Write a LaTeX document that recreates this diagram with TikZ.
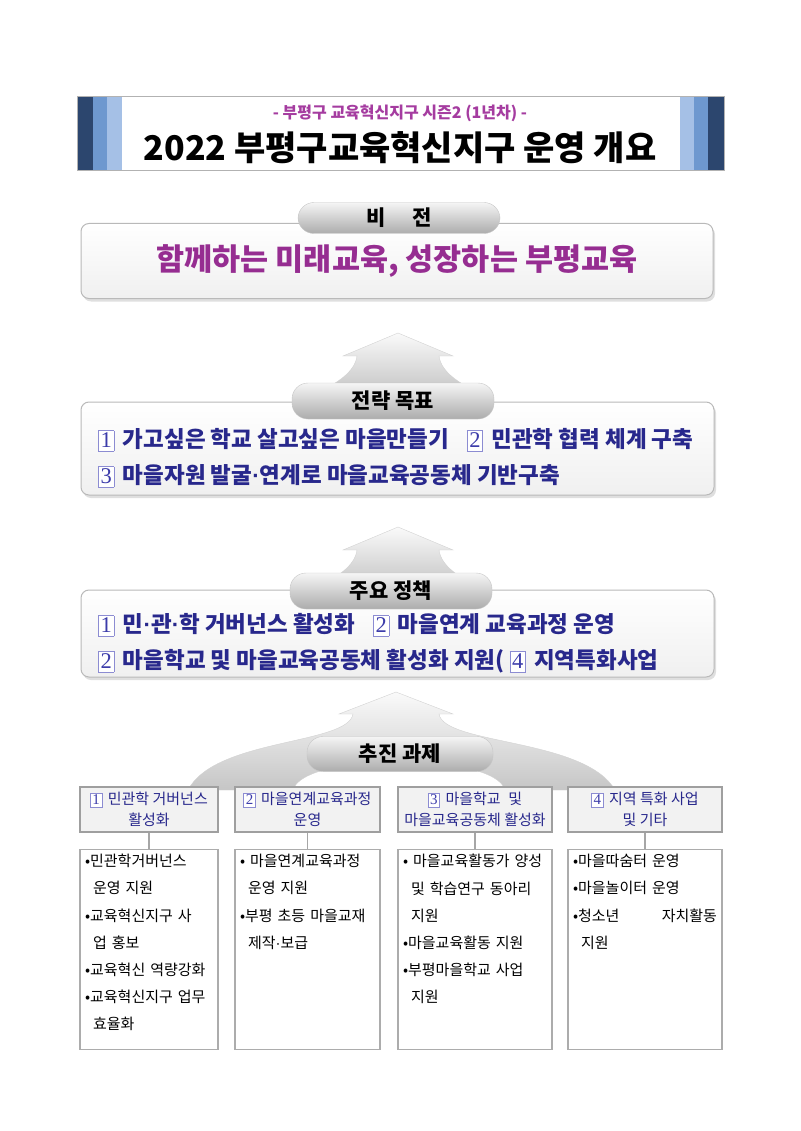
\documentclass[tikz,border=0pt]{standalone}
\usepackage{fontspec}
\setmainfont{Noto Sans CJK KR}
\newfontfamily\numfont{Liberation Serif}
\newfontfamily\dotfont{Liberation Sans}
\usetikzlibrary{positioning, shadows}

\definecolor{navy}{RGB}{44,70,110}
\definecolor{midblue}{RGB}{110,152,207}
\definecolor{lightblue}{RGB}{165,192,230}
\definecolor{subpurple}{RGB}{165,60,160}
\definecolor{visionpurple}{RGB}{150,45,145}
\definecolor{goalblue}{RGB}{40,40,140}
\definecolor{numframe}{RGB}{140,140,210}
\definecolor{numtext}{RGB}{60,60,170}

\setlength{\fboxsep}{1.2pt}
\setlength{\fboxrule}{0.7pt}
\newcommand{\numbox}[1]{\fcolorbox{numframe}{white}{\makebox[0.55em]{\numfont\mdseries\color{numtext}\rule[-0.1em]{0pt}{0.78em}#1}}\hspace{0.15em}}
\newcommand{\mdot}{{\dotfont\bfseries ·}}
\newcommand{\cont}{\hspace*{8pt}}
\newcommand{\toptext}[1]{\parbox[c][190pt][t]{\linewidth}{#1}}

\begin{document}
\begin{tikzpicture}[
    x = 1pt, y = -1pt,
    pill/.style = {rounded corners=16pt, top color=gray!8, bottom color=gray!65, draw=gray!45, minimum width=202pt, minimum height=36pt, font=\fontsize{21}{24}\selectfont\bfseries},
    panel/.style = {rounded corners=8pt, draw=gray!55, line width=1pt, top color=white, bottom color=gray!12, drop shadow={shadow xshift=2pt, shadow yshift=-3pt, fill=gray!50}},
    uparrow/.style = {top color=gray!4, bottom color=gray!45, draw=gray!35},
    goal/.style = {anchor=west, text=goalblue, font=\fontsize{22.5}{26}\selectfont\bfseries, inner sep=0pt},
    taskhead/.style = {draw=gray!75, line width=1.4pt, fill=gray!10, align=center, text=goalblue, font=\fontsize{15}{21}\selectfont, minimum height=45pt, inner sep=1pt},
    taskbody/.style = {draw=gray!65, line width=1.2pt, fill=white, inner sep=5pt, font=\fontsize{15}{27.2}\selectfont},
    link/.style = {draw=gray!70, line width=1.2pt}
]
\useasboundingbox (0,0) rectangle (800,1131);

% Title banner
    \fill[navy] (77,96) rectangle (724,170);
    \fill[midblue] (93,96) rectangle (708,170);
    \fill[lightblue] (107,96) rectangle (694,170);
    \fill[white] (122,96) rectangle (680,170);
    \draw[gray!60, line width=0.7pt] (77,96) rectangle (724,170);
    \node[text=subpurple, font=\fontsize{16}{18}\selectfont\bfseries] (subtitle) at (400,113) {- 부평구 교육혁신지구 시즌2 (1년차) -};
    \node[font=\fontsize{34}{38}\selectfont\bfseries] (title) at (400,148) {2022 부평구교육혁신지구 운영 개요};

% Panels
    \node[panel, minimum width=632pt, minimum height=75pt, text=visionpurple, font=\fontsize{30.5}{34}\selectfont\bfseries] (vision) at (397,261) {함께하는 미래교육, 성장하는 부평교육};
    \node[panel, minimum width=633pt, minimum height=93pt] (goals) at (397.5,448.5) {};
    \node[panel, minimum width=633pt, minimum height=87pt] (policy) at (397.5,633.5) {};

% Arrows
    \foreach \dy in {0,194}
        \path[uparrow, shift={(0,\dy)}] (398,333) -- (453,356) -- (439,356)
            .. controls (441,372) and (460,384) .. (478,392) -- (318,392)
            .. controls (336,384) and (355,372) .. (357,356) -- (343,356) -- cycle;
    \path[uparrow] (396,692) -- (453,714) -- (439,714)
        .. controls (444,745) and (585,738) .. (615,790) -- (505,790)
        .. controls (495,752) and (303,752) .. (293,790) -- (188,790)
        .. controls (215,738) and (348,745) .. (353,714) -- (339,714) -- cycle;

% Pills
    \node[pill, minimum height=31pt] (visionpill) at (399,218) {비\hspace{1.3em}전};
    \node[pill] (goalspill) at (393,401) {전략 목표};
    \node[pill] (policypill) at (391,591) {주요 정책};
    \node[pill, minimum width=186pt, minimum height=35pt] (taskpill) at (400,754) {추진 과제};

% Goal lines
    \node[goal] (goal1) at (98,440) {\numbox{1} 가고싶은 학교 살고싶은 마을만들기\hspace{0.8em}\numbox{2} 민관학 협력 체계 구축};
    \node[goal] (goal2) at (98,476) {\numbox{3} 마을자원 발굴\mdot 연계로 마을교육공동체 기반구축};
    \node[goal] (policy1) at (98,625) {\numbox{1} 민\mdot 관\mdot 학 거버넌스 활성화\hspace{0.8em}\numbox{2} 마을연계 교육과정 운영};
    \node[goal] (policy2) at (98,661) {\numbox{2} 마을학교 및 마을교육공동체 활성화 지원( \numbox{4} 지역특화사업};

% Task heads
    \node[taskhead, minimum width=138pt] (head1) at (149,809.5) {\numbox{1} 민관학 거버넌스\\활성화};
    \node[taskhead, minimum width=145pt] (head2) at (307.5,809.5) {\numbox{2} 마을연계교육과정\\운영};
    \node[taskhead, minimum width=154pt] (head3) at (475,809.5) {\numbox{3} 마을학교\enspace 및\\마을교육공동체 활성화};
    \node[taskhead, minimum width=154pt] (head4) at (645,809.5) {\numbox{4} 지역 특화 사업\\및 기타};

% Task bodies
    \node[taskbody, text width=128pt, below=16pt of head1] (body1) {\toptext{•민관학거버넌스\\\cont 운영 지원\\•교육혁신지구 사\\\cont 업 홍보\\•교육혁신 역량강화\\•교육혁신지구 업무\\\cont 효율화}};
    \node[taskbody, text width=135pt, below=16pt of head2] (body2) {\toptext{• 마을연계교육과정\\\cont 운영 지원\\•부평 초등 마을교재\\\cont 제작{\dotfont ·}보급}};
    \node[taskbody, text width=144pt, below=16pt of head3] (body3) {\toptext{• 마을교육활동가 양성\\\cont 및 학습연구 동아리\\\cont 지원\\•마을교육활동 지원\\•부평마을학교 사업\\\cont 지원}};
    \node[taskbody, text width=144pt, below=16pt of head4] (body4) {\toptext{•마을따숨터 운영\\•마을놀이터 운영\\•청소년 \hfill 자치활동\\\cont 지원}};

% Links
    \draw[link] (head1) -- (body1);
    \draw[link] (head2) -- (body2);
    \draw[link] (head3) -- (body3);
    \draw[link] (head4) -- (body4);
\end{tikzpicture}
\end{document}
